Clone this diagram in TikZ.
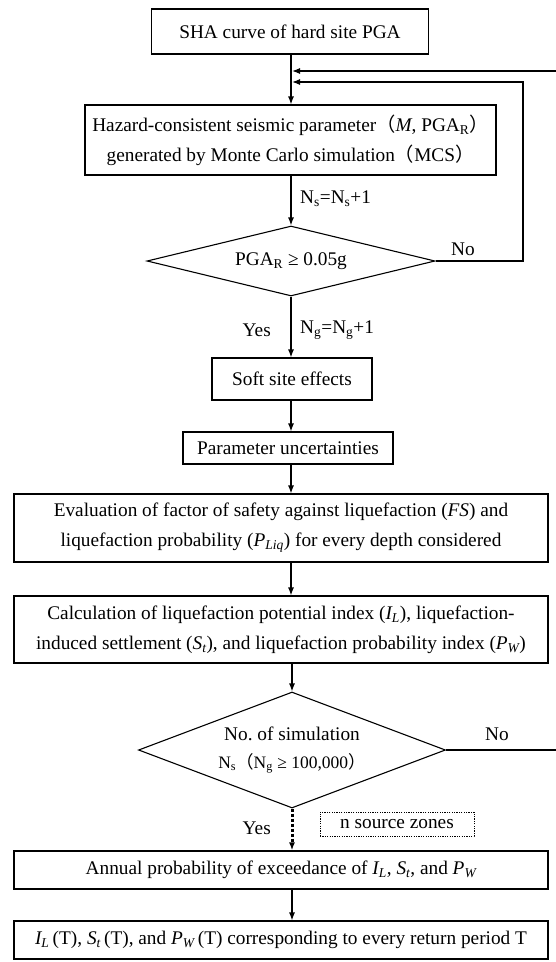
\documentclass[tikz,border=0pt]{standalone}
\usepackage{fontspec}
\setmainfont{Liberation Serif}
\newfontfamily\cjk{Noto Sans CJK SC}
\newcommand{\lpar}{{\cjk （}}
\newcommand{\rpar}{{\cjk ）}}
\usetikzlibrary{arrows.meta,shapes.geometric}
\begin{document}
\begin{tikzpicture}[x=1pt,y=-1pt,
  font=\fontsize{19.3}{30}\selectfont,
  box/.style={draw, line width=1.1pt, inner sep=0pt, align=center},
  dec/.style={draw, diamond, line width=1.1pt, inner sep=0pt, align=center},
  arr/.style={-{Latex[length=8pt,width=6pt]}, line width=1.2pt},
  lbl/.style={inner sep=0pt}]
\useasboundingbox (0,0) rectangle (555,962);
\coordinate (c) at (291,0);
% boxes
\node[box, minimum width=277pt, minimum height=45pt] (b1) at (290,31.5) {SHA curve of hard site PGA};
\node[box, minimum width=411pt, minimum height=70pt] (b2) at (290.5,140)
  {Hazard-consistent seismic parameter\lpar\textit{M}, PGA\textsubscript{R}\rpar\\
   generated by Monte Carlo simulation\lpar MCS\rpar};
\node[dec, minimum width=288pt, minimum height=70pt, aspect=4] (d1) at (291,261) {PGA\textsubscript{R} ≥ 0.05g};
\node[box, minimum width=160pt, minimum height=42pt] (soft) at (292,379) {Soft site effects};
\node[box, minimum width=210pt, minimum height=32pt] (par) at (288,448) {Parameter uncertainties};
\node[box, minimum width=534pt, minimum height=68pt] (eval) at (281,528)
  {Evaluation of factor of safety against liquefaction (\textit{FS}) and\\
   liquefaction probability (\textit{P\textsubscript{Liq}}) for every depth considered};
\node[box, minimum width=534pt, minimum height=67pt] (calc) at (281,629.5)
  {Calculation of liquefaction potential index (\textit{I\textsubscript{L}}), liquefaction-\\
   induced settlement (\textit{S\textsubscript{t}}), and liquefaction probability index (\textit{P\textsubscript{W}})};
\node[dec, minimum width=307pt, minimum height=116pt, aspect=2.65] (d2) at (292,750)
  {No.\ of simulation\\[-2pt]
   {\fontsize{17.5}{29}\selectfont N\textsubscript{s}\lpar N\textsubscript{g} ≥ 100,000\rpar}};
\node[box, minimum width=534pt, minimum height=38pt] (ann) at (281,870)
  {Annual probability of exceedance of \textit{I\textsubscript{L}}, \textit{S\textsubscript{t}}, and \textit{P\textsubscript{W}}};
\node[box, minimum width=534pt, minimum height=38pt] (last) at (281,940)
  {\textit{I\textsubscript{L}}\,(T), \textit{S\textsubscript{t}}\,(T), and \textit{P\textsubscript{W}}\,(T) corresponding to every return period T};
\node[box, dash pattern=on 1.2pt off 1.2pt, line width=1pt, minimum width=154pt, minimum height=24pt] (nsz) at (397,824) {n source zones};
% labels
\node[lbl, anchor=west] (ns) at (300,199) {N\textsubscript{s}=N\textsubscript{s}+1};
\node[lbl] (no1) at (463,249) {No};
\node[lbl, anchor=east] (yes1) at (271,330) {Yes};
\node[lbl, anchor=west] (ng) at (300,330) {N\textsubscript{g}=N\textsubscript{g}+1};
\node[lbl] (no2) at (497,734) {No};
\node[lbl, anchor=east] (yes2) at (271,828) {Yes};
% junctions
\coordinate (j1) at (292,71);
\coordinate (j2) at (292,82);
\coordinate (r1) at (557,71);
\coordinate (r2) at (523,82);
% connectors
\draw[arr] (b1.south -| c) -- (b2.north -| c);
\draw[arr] (b2.south -| c) -- (d1.north -| c);
\draw[arr] (d1.south -| c) -- (soft.north -| c);
\draw[arr] (soft.south -| c) -- (par.north -| c);
\draw[arr] (par.south -| c) -- (eval.north -| c);
\draw[arr] (eval.south -| c) -- (calc.north -| c);
\draw[arr] (calc.south -| d2) -- (d2.north);
\draw[arr, line width=3pt, dash pattern=on 3pt off 2pt] (d2.south) -- (ann.north -| d2);
\draw[arr] (ann.south -| d2) -- (last.north -| d2);
\draw[arr] (d1.east) -| (r2) -- (j2);
\draw[arr] (d2.east) -| (r1) -- (j1);
\end{tikzpicture}
\end{document}
